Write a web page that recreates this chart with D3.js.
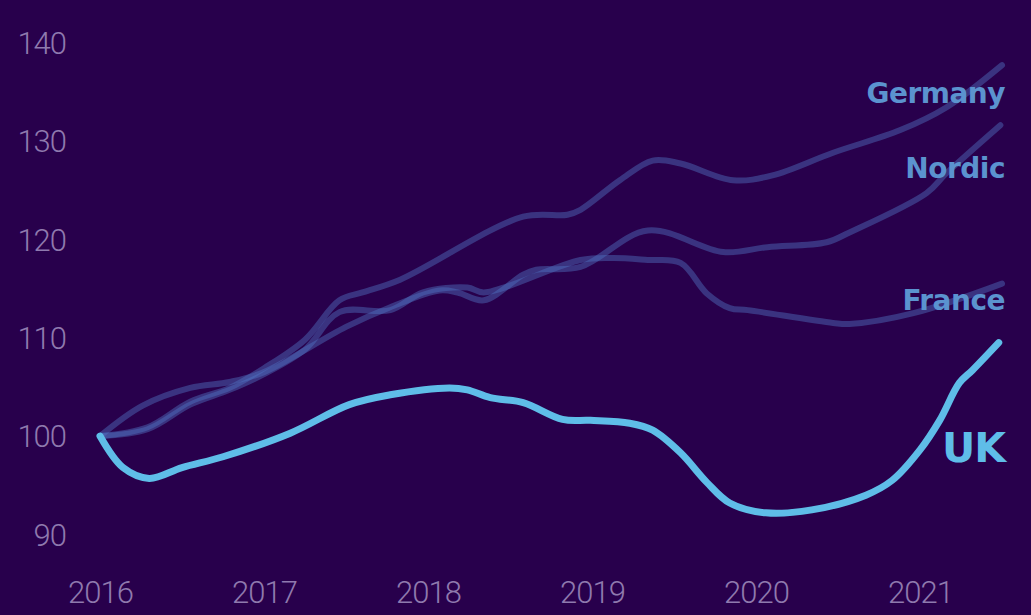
<!DOCTYPE html>
<html>
<head>
<meta charset="utf-8">
<script src="https://cdn.jsdelivr.net/npm/d3@7"></script>
<style>
  html, body { margin: 0; padding: 0; background: #28004c; }
  svg { display: block; }
</style>
</head>
<body>
<svg id="chart" width="1031" height="615"></svg>
<script>
// Values (decimal year, index 2016 = 100)
const yearTicks = [2016, 2017, 2018, 2019, 2020, 2021];
const valueTicks = [90, 100, 110, 120, 130, 140];

const ukYears = [2016.0, 2016.14, 2016.3, 2016.5, 2016.75, 2017.16, 2017.52, 2017.77, 2018.13, 2018.24, 2018.38, 2018.58, 2018.82, 2018.99, 2019.23, 2019.37, 2019.54, 2019.7, 2019.84, 2020.06, 2020.34, 2020.67, 2020.83, 2021.0, 2021.12, 2021.24, 2021.32, 2021.48];
const ukValues = [100, 96.8, 95.7, 96.8, 97.9, 100.3, 103.2, 104.2, 104.9, 104.7, 103.9, 103.4, 101.7, 101.6, 101.3, 100.6, 98.3, 95.3, 93.2, 92.2, 92.5, 94.0, 95.5, 98.6, 101.6, 105.4, 106.7, 109.5];

const germanyYears = [2016.0, 2016.29, 2016.55, 2016.79, 2017.0, 2017.25, 2017.46, 2017.6, 2017.83, 2018.58, 2018.85, 2018.93, 2019.17, 2019.37, 2019.54, 2019.86, 2020.1, 2020.47, 2020.88, 2021.16, 2021.5];
const germanyValues = [100, 100.9, 103.5, 104.9, 106.9, 109.8, 113.8, 114.6, 115.9, 122.3, 122.5, 123.0, 126.0, 128.0, 127.7, 126.0, 126.5, 128.8, 131.1, 133.4, 137.7];

const nordicYears = [2016.0, 2016.26, 2016.55, 2016.79, 2017.0, 2017.5, 2017.77, 2018.07, 2018.18, 2018.34, 2018.58, 2018.66, 2018.93, 2019.34, 2019.8, 2020.07, 2020.43, 2020.57, 2021.04, 2021.16, 2021.49];
const nordicValues = [100, 103.1, 104.9, 105.5, 106.5, 111.1, 113.1, 114.8, 114.6, 113.8, 116.4, 116.9, 117.2, 120.9, 118.7, 119.2, 119.7, 120.7, 124.7, 126.7, 131.6];

const franceYears = [2016.0, 2016.29, 2016.55, 2016.79, 2017.0, 2017.25, 2017.46, 2017.77, 2017.97, 2018.24, 2018.34, 2018.93, 2019.13, 2019.34, 2019.54, 2019.7, 2019.84, 2019.95, 2020.47, 2020.57, 2020.96, 2021.5];
const franceValues = [100, 100.7, 103.2, 104.7, 106.3, 108.8, 112.6, 112.8, 114.6, 115.1, 114.6, 117.9, 118.1, 117.9, 117.6, 114.5, 113.0, 112.8, 111.5, 111.4, 112.5, 115.5];

const seriesNames = ["Germany", "Nordic", "France", "UK"];

const toPoints = (years, values) => years.map((t, i) => ({ t, v: values[i] }));
const series = [
  { name: "Germany", points: toPoints(germanyYears, germanyValues) },
  { name: "Nordic", points: toPoints(nordicYears, nordicValues) },
  { name: "France", points: toPoints(franceYears, franceValues) },
  { name: "UK", points: toPoints(ukYears, ukValues) }
];

const svg = d3.select("#chart");

// scales tuned so 2016 sits at x=100 and 100 sits at y=436
const x = d3.scaleLinear().domain([2016, 2021]).range([100, 920]);
const y = d3.scaleLinear().domain([90, 140]).range([534.5, 42.5]);

svg.append("rect")
  .attr("width", 1031)
  .attr("height", 615)
  .attr("fill", "#28004c");

// y axis: labels only
const yAxis = svg.append("g")
  .attr("transform", "translate(66,0)")
  .call(d3.axisLeft(y).tickValues(valueTicks).tickSize(0).tickPadding(0));
yAxis.select(".domain").remove();
yAxis.selectAll("text")
  .attr("fill", "#8f7aae")
  .attr("font-family", "Roboto, 'Noto Sans', sans-serif")
  .attr("font-weight", 300)
  .attr("font-size", 31)
  .attr("letter-spacing", -1)
  .attr("dy", "0.35em");

// x axis: labels only
const xAxis = svg.append("g")
  .attr("transform", "translate(0,592)")
  .call(d3.axisBottom(x).tickValues(yearTicks).tickFormat(d3.format("d")).tickSize(0).tickPadding(0));
xAxis.select(".domain").remove();
xAxis.selectAll("text")
  .attr("fill", "#8f7aae")
  .attr("font-family", "Roboto, 'Noto Sans', sans-serif")
  .attr("font-weight", 300)
  .attr("font-size", 31)
  .attr("letter-spacing", -1)
  .attr("dy", "0.35em");

const line = d3.line()
  .x(d => x(d.t))
  .y(d => y(d.v))
  .curve(d3.curveCatmullRom.alpha(0.5));

// muted comparison lines
svg.append("g")
  .selectAll("path")
  .data(series.filter(s => s.name !== "UK"))
  .join("path")
  .attr("d", d => line(d.points))
  .attr("fill", "none")
  .attr("stroke", "#5070c0")
  .attr("stroke-opacity", 0.45)
  .attr("stroke-width", 6)
  .attr("stroke-linecap", "round")
  .attr("stroke-linejoin", "round");

// highlighted UK line
svg.append("path")
  .datum(series.find(s => s.name === "UK"))
  .attr("d", d => line(d.points))
  .attr("fill", "none")
  .attr("stroke", "#5fbde8")
  .attr("stroke-width", 7)
  .attr("stroke-linecap", "round")
  .attr("stroke-linejoin", "round");

// series labels, right aligned at the chart edge
const labelBaselines = { Germany: 103, Nordic: 178, France: 310, UK: 462 };
svg.append("g")
  .selectAll("text")
  .data(seriesNames)
  .join("text")
  .attr("x", 1005)
  .attr("y", d => labelBaselines[d])
  .attr("text-anchor", "end")
  .attr("font-family", "'DejaVu Sans', sans-serif")
  .attr("font-weight", "bold")
  .attr("font-size", d => d === "UK" ? 41 : 28)
  .attr("letter-spacing", d => d === "UK" ? -1 : -0.5)
  .attr("fill", d => d === "UK" ? "#5fbde8" : "#5b93cf")
  .text(d => d);
</script>
</body>
</html>
